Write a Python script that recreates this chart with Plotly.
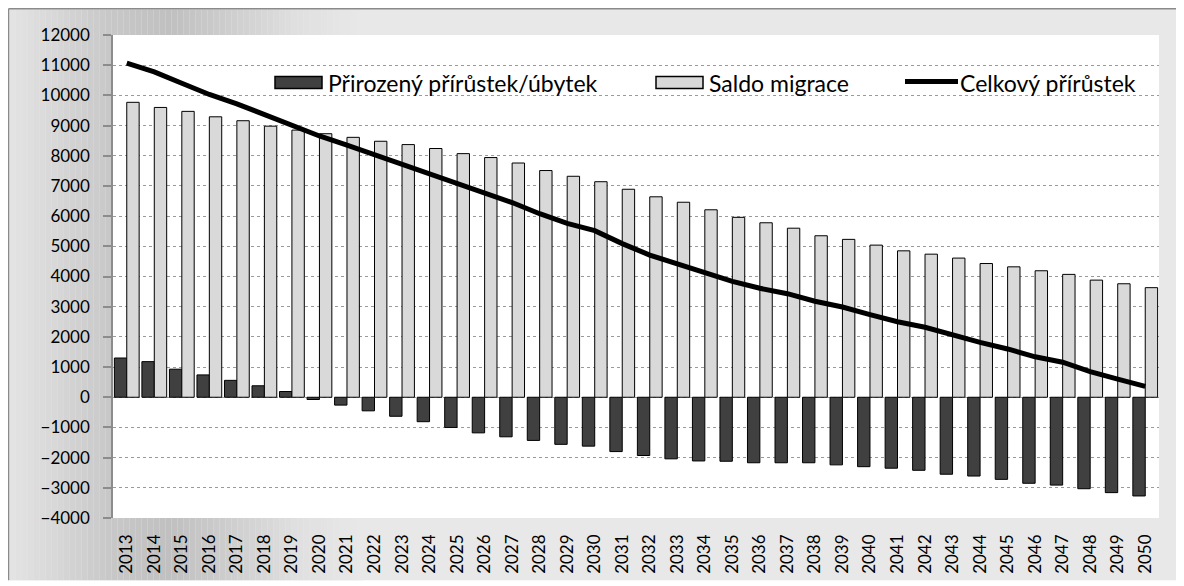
import plotly.graph_objects as go

# Kategorie (roky)
years = [str(y) for y in range(2013, 2051)]

# Přirozený přírůstek/úbytek
natural = [1300, 1180, 930, 740, 560, 380, 190, -75, -260, -450,
           -630, -810, -1000, -1180, -1310, -1430, -1560, -1620, -1800, -1930,
           -2040, -2110, -2120, -2170, -2170, -2170, -2240, -2300, -2350, -2420,
           -2550, -2610, -2720, -2850, -2910, -3030, -3160, -3270]

# Saldo migrace
migration = [9770, 9600, 9470, 9290, 9160, 8980, 8850, 8730, 8610, 8480,
             8370, 8240, 8070, 7940, 7760, 7510, 7320, 7140, 6890, 6640,
             6460, 6210, 5960, 5780, 5600, 5350, 5230, 5040, 4850, 4740,
             4610, 4430, 4320, 4190, 4070, 3880, 3760, 3630]

# Celkový přírůstek
total = [11070, 10780, 10400, 10030, 9720, 9360, 9040, 8655, 8350, 8030,
         7740, 7430, 7070, 6760, 6450, 6080, 5760, 5520, 5090, 4710,
         4420, 4100, 3840, 3610, 3430, 3180, 2990, 2740, 2500, 2320,
         2060, 1820, 1600, 1340, 1160, 850, 600, 360]

legend_names = ['Přirozený přírůstek/úbytek', 'Saldo migrace', 'Celkový přírůstek']

FONT = 'Lato'
OFF = 8  # okraj stránky (body margin)
W, H = 1184 - OFF, 586 - OFF
L, T = 113 - OFF, 35 - OFF
R = W - (1159 - OFF)
B = H - (523 - OFF)
PW, PH = W - L - R, H - T - B


# převod pixelů obrázku na souřadnice papíru
def px_x(p):
    return (p - OFF - L) / PW


def px_y(p):
    return (H - B - (p - OFF)) / PH


fig = go.Figure()

fig.add_trace(go.Bar(x=years, y=natural, name=legend_names[0],
                     marker=dict(color='#404040', line=dict(color='black', width=1)),
                     showlegend=False))
fig.add_trace(go.Bar(x=years, y=migration, name=legend_names[1],
                     marker=dict(color='#d9d9d9', line=dict(color='black', width=1)),
                     showlegend=False))
fig.add_trace(go.Scatter(x=years, y=total, name=legend_names[2], mode='lines',
                         line=dict(color='black', width=5), showlegend=False))

# pozadí grafu: šedá plocha s přechodem vlevo
shapes = [dict(type='rect', xref='paper', yref='paper', layer='below',
               x0=px_x(8.5), x1=px_x(1184), y0=px_y(586), y1=px_y(8.5),
               fillcolor='#e8e8e8', line=dict(width=0))]

stops = [(9, 228), (60, 214), (110, 200), (170, 192), (230, 206), (300, 224), (360, 232)]


def shade(x):
    for (xa, ca), (xb, cb) in zip(stops, stops[1:]):
        if xa <= x <= xb:
            return ca + (cb - ca) * (x - xa) / (xb - xa)
    return 232


step = 6
xx = 9.5
while xx < 360:
    c = int(round(shade(xx + step / 2)))
    shapes.append(dict(type='rect', xref='paper', yref='paper', layer='below',
                       x0=px_x(xx), x1=px_x(xx + step), y0=px_y(586), y1=px_y(9.5),
                       fillcolor=f'rgb({c},{c},{c})', line=dict(width=0)))
    xx += step

# rámeček (jen horní a levá hrana jsou vidět)
for x0, y0, x1, y1 in [(8.5, 8.5, 1184, 8.5), (8.5, 8.5, 8.5, 586)]:
    shapes.append(dict(type='line', xref='paper', yref='paper', layer='below',
                       x0=px_x(x0), x1=px_x(x1), y0=px_y(y0), y1=px_y(y1),
                       line=dict(color='#8a8a8a', width=1.5)))

# bílá plocha grafu
shapes.append(dict(type='rect', xref='paper', yref='paper', layer='below',
                   x0=0, x1=1, y0=0, y1=1, fillcolor='white', line=dict(width=0)))

# vlastní legenda
ly = 83
shapes.append(dict(type='rect', xref='paper', yref='paper',
                   x0=px_x(275), x1=px_x(322), y0=px_y(89), y1=px_y(77),
                   fillcolor='#404040', line=dict(color='black', width=1.5)))
shapes.append(dict(type='rect', xref='paper', yref='paper',
                   x0=px_x(656), x1=px_x(703), y0=px_y(89), y1=px_y(77),
                   fillcolor='#d9d9d9', line=dict(color='black', width=1.5)))
shapes.append(dict(type='line', xref='paper', yref='paper',
                   x0=px_x(905), x1=px_x(958), y0=px_y(82), y1=px_y(82),
                   line=dict(color='black', width=5)))

annotations = []
for name, xpos in zip(legend_names, [326, 707, 958]):
    annotations.append(dict(text=name, xref='paper', yref='paper',
                            x=px_x(xpos), y=px_y(ly), xanchor='left', yanchor='middle',
                            showarrow=False, font=dict(family=FONT, size=23, color='black')))

fig.update_layout(
    width=W, height=H,
    margin=dict(l=L, r=R, t=T, b=B),
    paper_bgcolor='white',
    plot_bgcolor='rgba(0,0,0,0)',
    barmode='group',
    bargap=0.1,
    bargroupgap=0,
    font=dict(family=FONT, size=17, color='black'),
    shapes=shapes,
    annotations=annotations,
    xaxis=dict(type='category', tickangle=-90, ticks='', showline=False,
               showgrid=False, zeroline=False, ticklabelstandoff=12,
               tickfont=dict(family=FONT, size=17)),
    xaxis2=dict(overlaying='x', anchor='free', position=0.25, side='bottom',
                range=[-0.5, 37.5], tickmode='linear', tick0=-0.5, dtick=1,
                ticks='outside', ticklen=5, tickwidth=1.5, tickcolor='#8c8c8c',
                showline=True, linecolor='#8c8c8c', linewidth=2,
                showticklabels=False, showgrid=False, zeroline=False),
    yaxis=dict(range=[-4000, 12000], dtick=1000, tick0=0, tickformat='d',
               showline=True, linecolor='#8c8c8c', linewidth=1.5,
               ticks='outside', ticklen=8, tickwidth=1.5, tickcolor='#8c8c8c',
               showgrid=True, gridcolor='#9a9a9a', griddash='dot', gridwidth=1,
               zeroline=False, ticklabelstandoff=10,
               tickfont=dict(family=FONT, size=17)),
)

fig.write_html("out.html")
